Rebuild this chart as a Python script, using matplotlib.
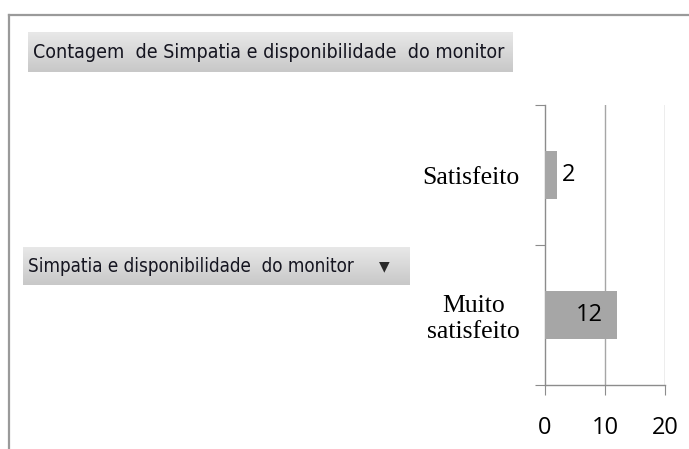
import numpy as np
import matplotlib
matplotlib.use("Agg")
import matplotlib.pyplot as plt
from matplotlib.lines import Line2D

# dados
categorias = ["Muito\nsatisfeito", "Satisfeito"]
contagem = [12, 2]
xticks = [0, 10, 20]
titulo_botao = "Contagem  de Simpatia e disponibilidade  do monitor"
campo_botao = "Simpatia e disponibilidade  do monitor"

W, H = 689, 449
fig = plt.figure(figsize=(W / 100, H / 100), dpi=100)


def px(x0, y0, x1, y1):
    # retangulo em pixels (origem no topo) -> coords da figura
    return [x0 / W, 1 - y1 / H, (x1 - x0) / W, (y1 - y0) / H]


# moldura
fig.add_artist(Line2D([8.5 / W, 8.5 / W], [0, 1 - 14.5 / H], color="#9a9a9a", lw=1.6))
fig.add_artist(Line2D([8.5 / W, 1], [1 - 14.5 / H, 1 - 14.5 / H], color="#9a9a9a", lw=1.6))

grad = np.linspace(0, 1, 64).reshape(-1, 1)
cmap = matplotlib.colors.LinearSegmentedColormap.from_list("btn", ["#e8e8e8", "#c8c8c8"])


def botao(rect, texto, tam, seta=False):
    bx = fig.add_axes(px(*rect))
    bx.imshow(grad, aspect="auto", cmap=cmap, extent=[0, 1, 0, 1], origin="upper")
    bx.set_xlim(0, 1)
    bx.set_ylim(0, 1)
    bx.axis("off")
    fig.text((rect[0] + 5) / W, 1 - (rect[1] + rect[3]) / 2 / H, texto,
             fontsize=tam, family="DejaVu Sans", fontstretch="condensed",
             color="#151520", va="center", ha="left")
    if seta:
        fig.text((rect[2] - 26) / W, 1 - (rect[1] + rect[3]) / 2 / H, "▼",
                 fontsize=10, family="DejaVu Sans", color="#2a2a2a",
                 va="center", ha="center")


botao((28, 32, 513, 72), titulo_botao, 14)
botao((23, 247, 410, 285), campo_botao, 13.5, seta=True)

# grafico de barras
ax = fig.add_axes(px(545, 105, 665, 385))
y = np.arange(len(categorias))
ax.barh(y, contagem, height=0.34, color="#a6a6a6", zorder=3)
ax.set_xlim(0, 20)
ax.set_ylim(-0.5, len(categorias) - 0.5)

for s in ["top", "right"]:
    ax.spines[s].set_visible(False)
for s in ["left", "bottom"]:
    ax.spines[s].set_color("#8c8c8c")
    ax.spines[s].set_linewidth(1.0)

ax.set_xticks(xticks)
ax.set_xticklabels([str(t) for t in xticks], family="Open Sans", fontsize=17)
ax.tick_params(axis="x", length=7, color="#8c8c8c", pad=15)
for t in xticks[1:]:
    ax.axvline(t, color="#a6a6a6", lw=1.0, zorder=1)

ax.set_yticks(np.arange(-0.5, len(categorias), 1.0))
ax.set_yticklabels([])
ax.tick_params(axis="y", which="major", length=7, color="#8c8c8c")
ax.set_yticks(y, minor=True)
ax.set_yticklabels(categorias, minor=True, family="Liberation Serif", fontsize=18.5,
                   multialignment="center")
ax.tick_params(axis="y", which="minor", length=0, pad=18)

# rotulos de dados
for yi, v in zip(y, contagem):
    if v > 5:
        ax.annotate(str(v), (v, yi), xytext=(-14, 0), textcoords="offset pixels",
                    ha="right", va="center", family="Open Sans", fontsize=17, zorder=4)
    else:
        ax.annotate(str(v), (v, yi), xytext=(5, 0), textcoords="offset pixels",
                    ha="left", va="center", family="Open Sans", fontsize=17, zorder=4)

fig.savefig("out.png", dpi=100)
